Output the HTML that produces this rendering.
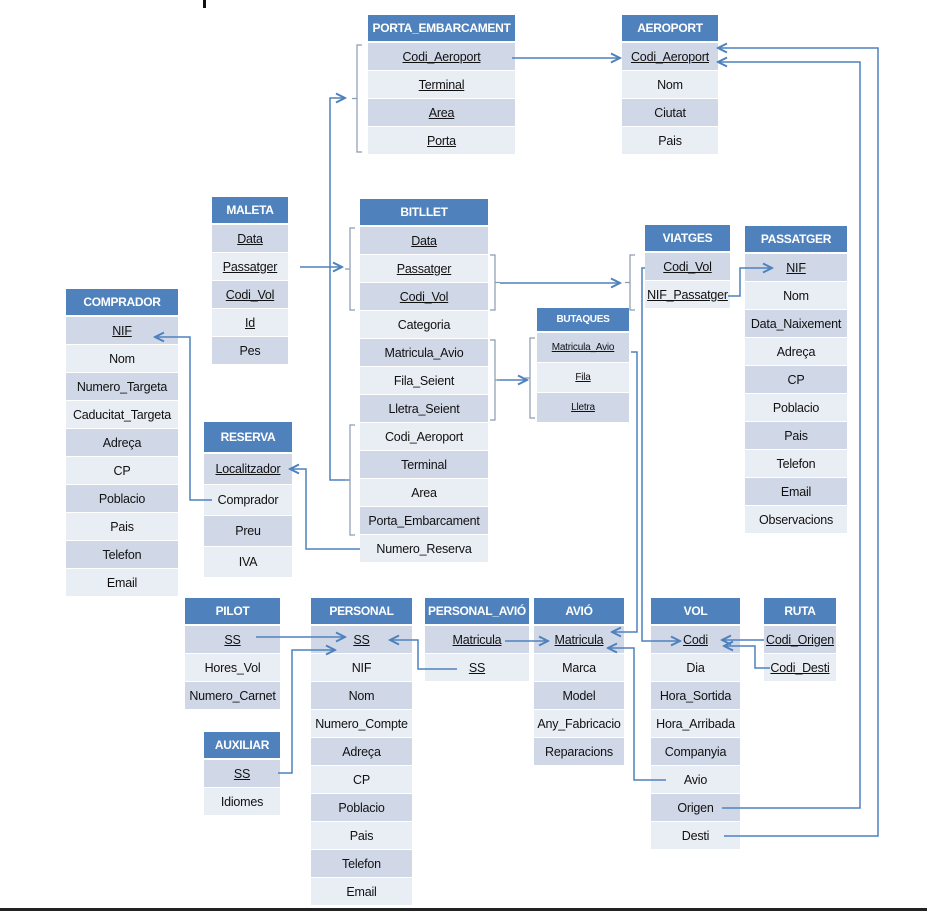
<!DOCTYPE html>
<html><head><meta charset="utf-8">
<style>
html,body{margin:0;padding:0;background:#fff;width:927px;height:911px;overflow:hidden;position:relative;font-family:"Liberation Sans",sans-serif}
.t{position:absolute}
.h{background:#4f81bd;color:#fff;font-weight:bold;font-size:12px;display:flex;align-items:center;justify-content:center;border-bottom:2px solid #fff;box-sizing:border-box;white-space:nowrap;letter-spacing:-0.3px}
.r{display:flex;align-items:center;justify-content:center;font-size:12.5px;color:#111;border-bottom:1px solid #fff;box-sizing:border-box;white-space:nowrap;letter-spacing:-0.2px}
.d{background:#d0d8e8}.l{background:#e9edf4}
.u{text-decoration:underline}
svg{position:absolute;left:0;top:0}
</style></head><body>
<div style="position:absolute;left:0;top:908px;width:927px;height:3px;background:#222"></div>
<div style="position:absolute;left:203px;top:0;width:3px;height:8px;background:#111"></div>
<div id="root"></div>
<svg width="927" height="911">
<defs><marker id="a" markerWidth="8" markerHeight="8" refX="7" refY="4" orient="auto"><path d="M1,1 L7,4 L1,7" fill="none" stroke="#4f81bd" stroke-width="1.3"/></marker></defs>
<g id="lines" fill="none" stroke="#4f81bd" stroke-width="1.5"></g>
<g id="br" fill="none" stroke="#8a9ab0" stroke-width="1.2"></g>
</svg>
<script>
const tables=[
["PORTA_EMBARCAMENT",368,15,147,28,28,[["Codi_Aeroport",1],["Terminal",1],["Area",1],["Porta",1]]],
["AEROPORT",622,15,96,28,28,[["Codi_Aeroport",1],["Nom",0],["Ciutat",0],["Pais",0]]],
["MALETA",212,197,76,28,28,[["Data",1],["Passatger",1],["Codi_Vol",1],["Id",1],["Pes",0]]],
["BITLLET",360,199,128,28,28,[["Data",1],["Passatger",1],["Codi_Vol",1],["Categoria",0],["Matricula_Avio",0],["Fila_Seient",0],["Lletra_Seient",0],["Codi_Aeroport",0],["Terminal",0],["Area",0],["Porta_Embarcament",0],["Numero_Reserva",0]]],
["VIATGES",645,225,85,28,28,[["Codi_Vol",1],["NIF_Passatger",1]]],
["PASSATGER",745,226,102,28,28,[["NIF",1],["Nom",0],["Data_Naixement",0],["Adreça",0],["CP",0],["Poblacio",0],["Pais",0],["Telefon",0],["Email",0],["Observacions",0]]],
["COMPRADOR",66,289,112,28,28,[["NIF",1],["Nom",0],["Numero_Targeta",0],["Caducitat_Targeta",0],["Adreça",0],["CP",0],["Poblacio",0],["Pais",0],["Telefon",0],["Email",0]]],
["BUTAQUES",537,308,92,25,30,[["Matricula_Avio",1],["Fila",1],["Lletra",1]]],
["RESERVA",204,422,88,32,31,[["Localitzador",1],["Comprador",0],["Preu",0],["IVA",0]]],
["PILOT",185,598,95,28,28,[["SS",1],["Hores_Vol",0],["Numero_Carnet",0]]],
["PERSONAL",311,598,101,28,28,[["SS",1],["NIF",0],["Nom",0],["Numero_Compte",0],["Adreça",0],["CP",0],["Poblacio",0],["Pais",0],["Telefon",0],["Email",0]]],
["PERSONAL_AVIÓ",425,598,104,28,28,[["Matricula",1],["SS",1]]],
["AVIÓ",534,598,90,28,28,[["Matricula",1],["Marca",0],["Model",0],["Any_Fabricacio",0],["Reparacions",0]]],
["VOL",651,598,89,28,28,[["Codi",1],["Dia",0],["Hora_Sortida",0],["Hora_Arribada",0],["Companyia",0],["Avio",0],["Origen",0],["Desti",0]]],
["RUTA",764,598,72,28,28,[["Codi_Origen",1],["Codi_Desti",1]]],
["AUXILIAR",204,732,76,28,28,[["SS",1],["Idiomes",0]]]
];
const root=document.getElementById('root');
tables.forEach(t=>{
 const [n,x,y,w,hh,rh,rows]=t;
 const slug=n.toLowerCase().replace(/[^a-z]+/g,'-');
 const d=document.createElement('div');d.className='t';
 
 
 d.style.cssText=`left:${x}px;top:${y}px;width:${w}px`;
 const h=document.createElement('div');h.className='h';h.style.height=hh+'px';h.textContent=n;
 if(n==='BUTAQUES')h.style.fontSize='10px';
 
 
 d.appendChild(h);
 rows.forEach((r,i)=>{
  const e=document.createElement('div');e.className='r '+(i%2?'l':'d');e.style.height=rh+'px';
  if(n==='BUTAQUES')e.style.fontSize='10px';
  const s=document.createElement('span');if(r[1])s.className='u';s.textContent=r[0];e.appendChild(s);
  
  
  d.appendChild(e);
 });
 root.appendChild(d);
});
const lines=[
["M512,58 H620",1],["M350,480 H330 V98 H345",1],["M300,267 H342",1],["M500,283 H620",1],
["M728,296 H740 V268 H772",1],["M497,380 H527",1],["M631,352 H637 V632 H612",1],
["M645,268 H642 V641 H680",1],["M212,500 H190 V337 H155",1],["M360,549 H306 V469 H290",1],
["M256,637 H345",1],["M278,773 H292 V650 H335",1],["M457,669 H418 V640 H390",1],
["M505,641 H548",1],["M666,780 H634 V648 H608",1],["M764,640 H722",1],["M770,668 H755 V646 H724",1],
["M722,808 H860 V62 H718",1],["M724,836 H878 V48 H718",1]
];
const g=document.getElementById('lines');
lines.forEach(l=>{const p=document.createElementNS('http://www.w3.org/2000/svg','path');p.setAttribute('d',l[0]);p.setAttribute('marker-end','url(#a)');
 
 
 g.appendChild(p);});
const brs=[[362,45,152,-1],[355,228,310,-1],[490,255,310,1],[635,255,310,-1],[490,340,420,1],[535,338,418,-1],[355,425,535,-1]];
const gb=document.getElementById('br');
brs.forEach(b=>{const [x,y1,y2,dir]=b;const m=(y1+y2)/2;const o=5*dir;
 const p=document.createElementNS('http://www.w3.org/2000/svg','path');
 p.setAttribute('d',`M${x},${y1} H${x+o} V${y2} H${x} M${x+o},${m} H${x+2*o}`);
 
 
 gb.appendChild(p);});
</script>
</body></html>
